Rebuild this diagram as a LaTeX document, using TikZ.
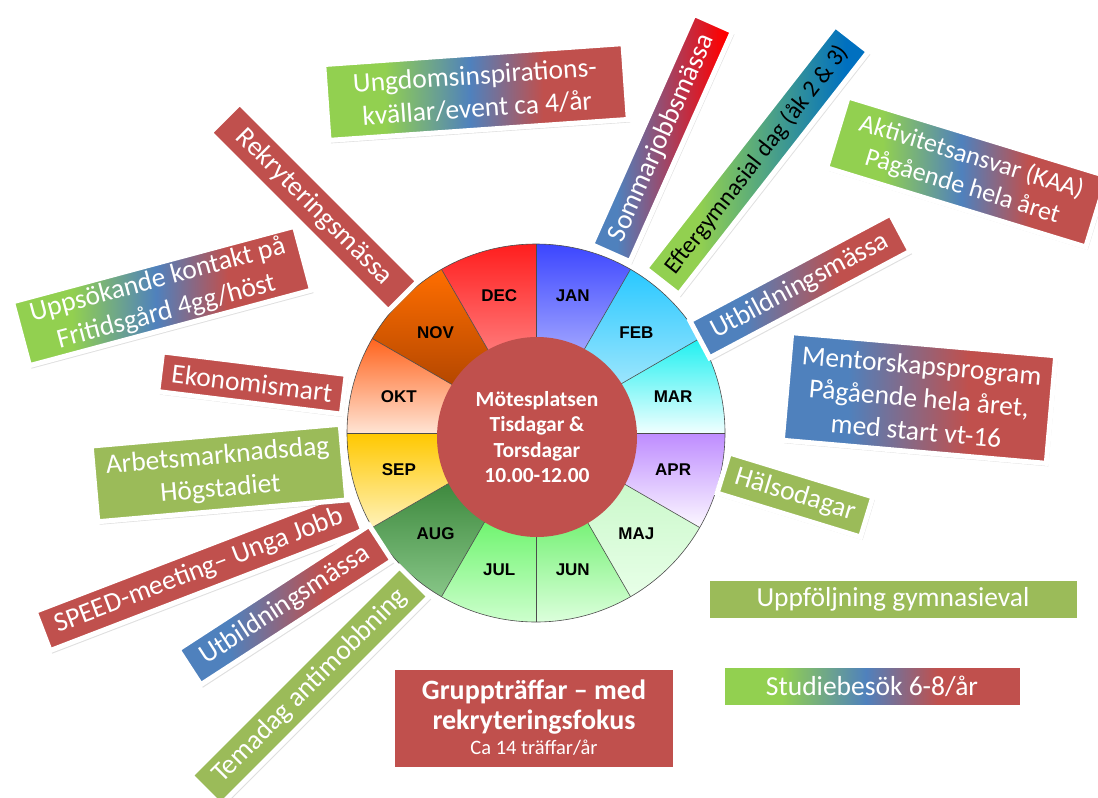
\documentclass[tikz,border=0pt]{standalone}
\usepackage{fontspec}
\setmainfont{Carlito}
\newfontfamily\arialfont{Liberation Sans}
\usetikzlibrary{shadows}
\definecolor{cg}{RGB}{146,208,80}
\definecolor{cb}{RGB}{79,129,189}
\definecolor{cr}{RGB}{192,80,77}
\definecolor{sg}{RGB}{155,187,89}
\definecolor{db}{RGB}{0,112,192}
\definecolor{br}{RGB}{255,0,0}
\pgfdeclarehorizontalshading{gbr}{100bp}{color(0bp)=(cg); color(35bp)=(cg); color(49bp)=(cb); color(61bp)=(cr); color(100bp)=(cr)}
\pgfdeclarehorizontalshading{brs}{100bp}{color(0bp)=(cb); color(37bp)=(cb); color(59bp)=(cr); color(100bp)=(cr)}
\pgfdeclarehorizontalshading{bbr}{100bp}{color(0bp)=(cb); color(34bp)=(cb); color(72bp)=(br); color(100bp)=(br)}
\pgfdeclarehorizontalshading{gdb}{100bp}{color(0bp)=(cg); color(37bp)=(cg); color(70bp)=(db); color(100bp)=(db)}
\tikzset{
  lbl/.style={draw=white, line width=5pt, text=white, align=center, inner sep=1pt,
    font=\fontsize{27.5}{33}\selectfont,
    drop shadow={shadow xshift=2pt, shadow yshift=-3pt, opacity=0.25}},
  solidg/.style={lbl, fill=sg},
  solidr/.style={lbl, fill=cr},
  gradgbr/.style={lbl, shading=gbr},
  gradbr/.style={lbl, shading=brs},
  gradbbr/.style={lbl, shading=bbr},
  gradgdb/.style={lbl, shading=gdb},
  mon/.style={font=\arialfont\bfseries\fontsize{17}{20}\selectfont, text=black},
  sector/.style={draw=black!70, line width=0.6pt},
}
\begin{document}
\begin{tikzpicture}[x=1pt,y=-1pt]
\useasboundingbox[fill=white] (0,0) rectangle (1098,798);

% ---- wheel ----
\begin{scope}[shift={(536,433)}]
  \foreach \i/\tc/\bc in {
    0/{rgb,255:red,60;green,70;blue,255}/{rgb,255:red,235;green,235;blue,255},
    1/{rgb,255:red,40;green,200;blue,255}/{rgb,255:red,205;green,242;blue,252},
    2/{rgb,255:red,30;green,240;blue,240}/{rgb,255:red,240;green,255;blue,255},
    3/{rgb,255:red,190;green,140;blue,255}/{rgb,255:red,252;green,248;blue,255},
    4/{rgb,255:red,190;green,245;blue,190}/{rgb,255:red,232;green,255;blue,232},
    5/{rgb,255:red,30;green,230;blue,30}/{rgb,255:red,220;green,255;blue,220},
    6/{rgb,255:red,30;green,235;blue,30}/{rgb,255:red,205;green,255;blue,205},
    7/{rgb,255:red,30;green,110;blue,30}/{rgb,255:red,135;green,198;blue,135},
    8/{rgb,255:red,255;green,200;blue,0}/{rgb,255:red,255;green,242;blue,185},
    9/{rgb,255:red,255;green,100;blue,30}/{rgb,255:red,255;green,228;blue,212},
    10/{rgb,255:red,255;green,110;blue,0}/{rgb,255:red,150;green,55;blue,0},
    11/{rgb,255:red,255;green,30;blue,30}/{rgb,255:red,255;green,188;blue,188}}
  {
    \path[top color=\tc, bottom color=\bc] (0pt,0pt) -- ({90-30*\i}:189pt)
      arc[start angle={90-30*\i}, end angle={60-30*\i}, radius=189pt] -- cycle;
  }
  \foreach \a in {0,30,...,330} \draw[sector] (0pt,0pt) -- (\a:189pt);
  \draw[sector] (0pt,0pt) circle[radius=189pt];
  \foreach \i/\m in {0/JAN,1/FEB,2/MAR,3/APR,4/MAJ,5/JUN,6/JUL,7/AUG,8/SEP,9/OKT,10/NOV,11/DEC}
    \node[mon] (m\i) at ({75-30*\i}:142pt) {\m};
  \node[circle, fill=cr, minimum size=200pt, inner sep=0pt, text=white,
        font=\bfseries\fontsize{21.5}{25.5}\selectfont, align=center] (hub) at (1,4)
        {Mötesplatsen\\Tisdagar \&\\Torsdagar\\10.00-12.00};
\end{scope}

% ---- labels ----
\node[gradgbr, rotate=4, minimum width=300pt, minimum height=76pt] (ungdom) at (476,92)
  {Ungdomsinspirations-\\kvällar/event ca 4/år};
\node[solidr, rotate=-45, minimum width=252pt, minimum height=42pt] (rekr) at (314,207)
  {Rekryteringsmässa};
\node[gradgbr, rotate=15, minimum width=292pt, minimum height=66pt] (upps) at (162,296)
  {Uppsökande kontakt på\\Fritidsgård 4gg/höst};
\node[solidr, rotate=-7, minimum width=185pt, minimum height=40pt] (ekon) at (252,383)
  {Ekonomismart};
\node[solidr, rotate=21, minimum width=335pt, minimum height=42pt] (speed) at (199,571)
  {SPEED-meeting– Unga Jobb};
\node[solidg, rotate=5, minimum width=250pt, minimum height=76pt] (arbets) at (219,473)
  {Arbetsmarknadsdag\\Högstadiet};
\node[gradbr, rotate=33, minimum width=228pt, minimum height=42pt] (utbl) at (285,605)
  {Utbildningsmässa};
\node[solidg, rotate=45, minimum width=295pt, minimum height=42pt] (tema) at (310,686)
  {Temadag antimobbning};
\node[solidr, minimum width=283pt, minimum height=102pt,
      font=\bfseries\fontsize{28}{30}\selectfont] (grupp) at (534,718)
  {Gruppträffar – med\\rekryteringsfokus\\[-5pt]{\mdseries\fontsize{20.5}{22}\selectfont Ca 14 träffar/år}};
\node[gradgbr, minimum width=300pt, minimum height=42pt] (studie) at (872,686)
  {Studiebesök 6-8/år};
\node[solidg, minimum width=372pt, minimum height=42pt] (uppf) at (893,599)
  {Uppföljning gymnasieval};
\node[solidg, rotate=-17, minimum width=150pt, minimum height=42pt] (hals) at (795,495)
  {Hälsodagar};
\node[gradbr, rotate=-5, minimum width=265pt, minimum height=108pt] (mentor) at (919,398)
  {Mentorskapsprogram\\Pågående hela året,\\med start vt-16};
\node[gradbr, rotate=28, minimum width=227pt, minimum height=42pt] (utbr) at (800,286)
  {Utbildningsmässa};
\node[gradgdb, rotate=52, minimum width=308pt, minimum height=42pt, text=black,
      font=\fontsize{24}{30}\selectfont] (efter) at (757,160)
  {Eftergymnasial dag (åk 2 \& 3)};
\node[gradgbr, rotate=-17, minimum width=271pt, minimum height=74pt,
      font=\fontsize{26}{31}\selectfont] (aktiv) at (967,172)
  {Aktivitetsansvar (KAA)\\Pågående hela året};
\node[gradbbr, rotate=66, minimum width=252pt, minimum height=42pt] (sommar) at (662,138)
  {Sommarjobbsmässa};
\end{tikzpicture}
\end{document}
